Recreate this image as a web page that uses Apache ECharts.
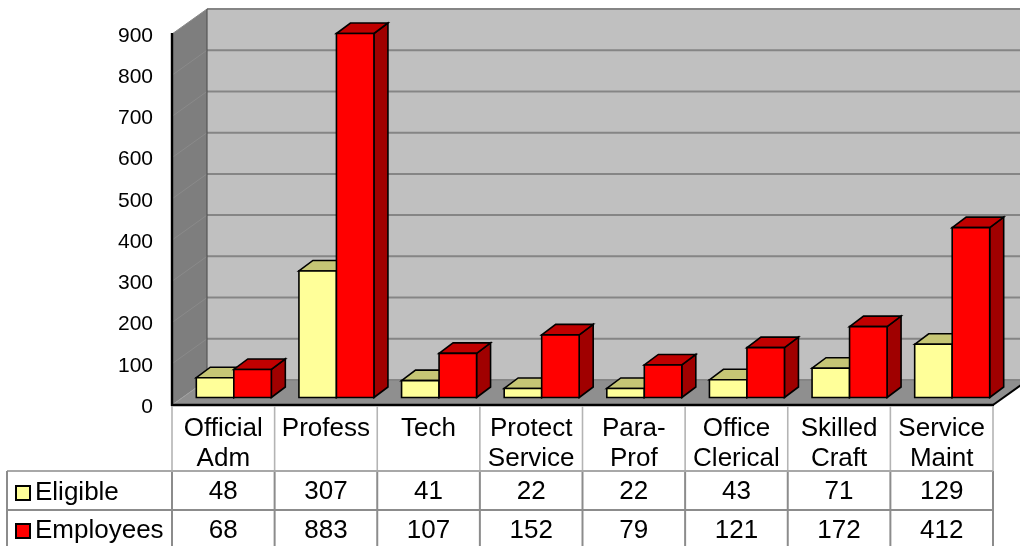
<!DOCTYPE html>
<html><head><meta charset="utf-8">
<style>html,body{margin:0;padding:0;background:#fff}#c{width:1020px;height:546px}</style>
<script src="https://cdn.jsdelivr.net/npm/echarts@6/dist/echarts.min.js"></script>
</head><body><div id="c"></div>
<script>
const categories = ['Official\nAdm','Profess','Tech','Protect\nService','Para-\nProf','Office\nClerical','Skilled\nCraft','Service\nMaint'];
const eligible = [48,307,41,22,22,43,71,129];
const employees = [68,883,107,152,79,121,172,412];
const yTicks = {min:0,max:900,interval:100};

const FONT = '"Liberation Sans", Arial, sans-serif';
const DEPTH = [35,-25];       // full chart depth
const BAR_OFF = [10.5,-7.5];  // front plane of bars inside the depth
const BAR_DEPTH = [14,-10.5];
const BAR_W = 37.5;
const ROW_Y = {Eligible:492, Employees:531};
const TABLE_LEFT = 7;
const ROW_LINES = [471,510];

function poly(pts, fill, stroke, lw){
  return {type:'polygon', shape:{points:pts}, style:{fill:fill, stroke:stroke||null, lineWidth:lw||0, lineJoin:'miter'}, silent:true};
}
function line(x1,y1,x2,y2,c,w){
  return {type:'line', shape:{x1,y1,x2,y2}, style:{stroke:c,lineWidth:w,fill:null}, silent:true};
}
function barRenderer(slot, front, top, side, rowName){
  return function(params, api){
    const i = api.value(0), v = api.value(1);
    const base = api.coord([i,0]), head = api.coord([i,v]);
    const x0 = base[0] + BAR_OFF[0] + slot*BAR_W, x1 = x0 + BAR_W;
    const yb = base[1] + BAR_OFF[1], yt = head[1] + BAR_OFF[1];
    const dx = BAR_DEPTH[0], dy = BAR_DEPTH[1];
    return {type:'group', children:[
      poly([[x1,yb],[x1+dx,yb+dy],[x1+dx,yt+dy],[x1,yt]], side, '#000', 1.6),
      poly([[x0,yt],[x0+dx,yt+dy],[x1+dx,yt+dy],[x1,yt]], top, '#000', 1.6),
      poly([[x0,yb],[x1,yb],[x1,yt],[x0,yt]], front, '#000', 1.6),
      {type:'text', silent:true, style:{x:base[0], y:ROW_Y[rowName], text:String(v), fill:'#000',
        font:'26px '+FONT, align:'center', verticalAlign:'middle'}}
    ]};
  };
}
function wallRenderer(params, api){
  const g = params.coordSys, L=g.x, R=g.x+g.width, T=g.y, B=g.y+g.height;
  const dx=DEPTH[0], dy=DEPTH[1], kids=[];
  kids.push(poly([[L+dx,T+dy],[R+dx,T+dy],[R+dx,B+dy],[L+dx,B+dy]],'#c0c0c0'));
  kids.push(poly([[L,T],[L+dx,T+dy],[L+dx,B+dy],[L,B]],'#7e7e7e'));
  kids.push(poly([[L,B],[L+dx,B+dy],[R+dx,B+dy],[R,B]],'#8f8f8f'));
  for(let v=yTicks.min; v<=yTicks.max; v+=yTicks.interval){
    const y = api.coord([0,v])[1];
    kids.push(line(L+dx,y+dy,R+dx,y+dy,'#858585',2));
    if(v>0) kids.push(line(L,y,L+dx,y+dy,'#8a8a8a',1));
  }
  kids.push(line(L+dx,T+dy,L+dx,B+dy,'#555',1.2));
  kids.push(line(L,B,L+dx,B+dy,'#a0a0a0',1));
  return {type:'group', children:kids};
}
function frameRenderer(params, api){
  const g = params.coordSys, L=g.x, R=g.x+g.width, T=g.y, B=g.y+g.height;
  const cw = api.size([1,0])[0], kids=[], H=546;
  kids.push(line(L,T-1,L,B+1,'#000',2.4));
  kids.push(line(L-1,B,R+1,B,'#000',2.4));
  kids.push(line(R,B,R+DEPTH[0],B+DEPTH[1],'#000',2));
  for(let i=0;i<=categories.length;i++){
    const x = L+i*cw;
    kids.push(line(x,B+1,x,ROW_LINES[0],'#b4b4b4',1.6));
    kids.push(line(x,ROW_LINES[0],x,H,'#8c8c8c',2));
  }
  kids.push(line(TABLE_LEFT,ROW_LINES[0],R,ROW_LINES[0],'#a8a8a8',2));
  kids.push(line(TABLE_LEFT,ROW_LINES[1],R,ROW_LINES[1],'#8c8c8c',2));
  kids.push(line(TABLE_LEFT,ROW_LINES[0],TABLE_LEFT,H,'#8c8c8c',2));
  return {type:'group', children:kids};
}
const chart = echarts.init(document.getElementById('c'), null, {renderer:'canvas'});
chart.setOption({
  animation:false,
  backgroundColor:'#fff',
  grid:{left:172,right:27,top:34,bottom:141,containLabel:false},
  xAxis:{type:'category',data:categories,axisLine:{show:false},axisTick:{show:false},splitLine:{show:false},
    axisLabel:{interval:0,margin:8,fontFamily:FONT,fontSize:26,color:'#000',lineHeight:30,align:'center',verticalAlign:'top',padding:[1,0,0,0]}},
  yAxis:{type:'value',min:yTicks.min,max:yTicks.max,interval:yTicks.interval,
    axisLine:{show:false},axisTick:{show:false},splitLine:{show:false},
    axisLabel:{margin:19,fontFamily:FONT,fontSize:21,color:'#000',verticalAlign:'top',lineHeight:4}},
  legend:{data:['Eligible','Employees'],orient:'vertical',left:15,top:480,itemWidth:14,itemHeight:14,itemGap:12,
    icon:'rect',padding:0,selectedMode:false,
    itemStyle:{borderColor:'#000',borderWidth:2},
    textStyle:{fontFamily:FONT,fontSize:26,color:'#000'}},
  series:[
    {type:'custom',name:'walls',z:1,silent:true,coordinateSystem:'cartesian2d',data:[[0,0]],renderItem:wallRenderer,encode:{x:0,y:1}},
    {type:'custom',name:'Eligible',z:2,silent:true,itemStyle:{color:'#ffff99'},encode:{x:0,y:1},
      data:eligible.map((v,i)=>[i,v]),renderItem:barRenderer(-1,'#ffff99','#c6c675','#a0a060','Eligible')},
    {type:'custom',name:'Employees',z:3,silent:true,itemStyle:{color:'#ff0000'},encode:{x:0,y:1},
      data:employees.map((v,i)=>[i,v]),renderItem:barRenderer(0,'#ff0000','#c00000','#a00000','Employees')},
    {type:'custom',name:'frame',z:4,silent:true,data:[[0,0]],renderItem:frameRenderer,encode:{x:0,y:1}}
  ]
});
</script></body></html>
